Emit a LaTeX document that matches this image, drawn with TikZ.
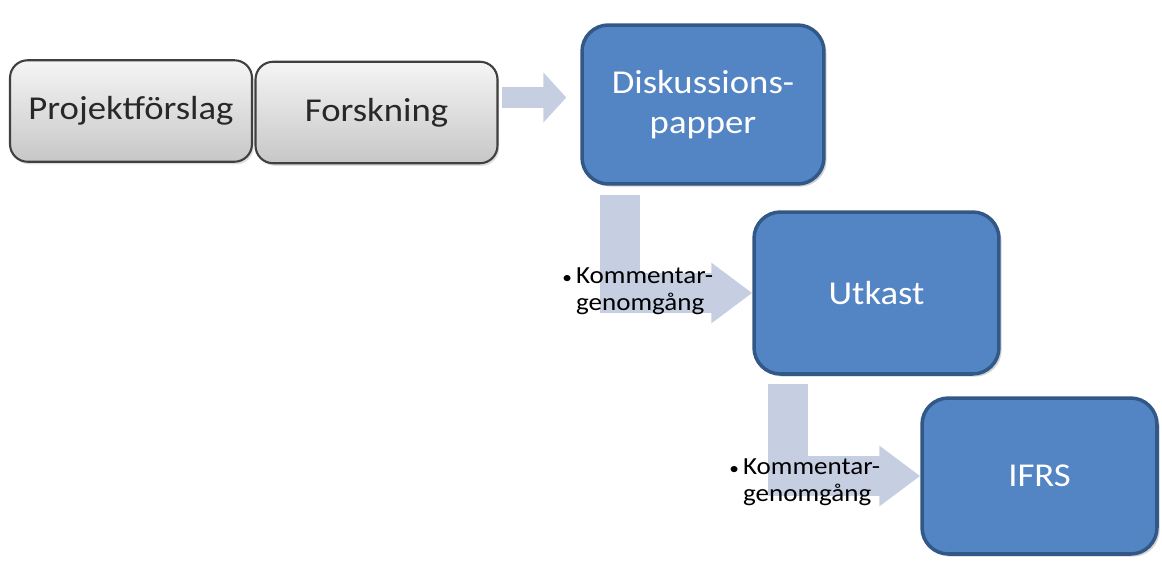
\documentclass[tikz,border=0pt]{standalone}
\usepackage{fontspec}
\setmainfont{Carlito}[FakeStretch=1.1]
\usetikzlibrary{arrows.meta,shadows}
\definecolor{boxblue}{RGB}{83,133,196}
\definecolor{boxedge}{RGB}{50,88,136}
\definecolor{flowgray}{RGB}{198,207,226}
\definecolor{inkgray}{RGB}{40,40,40}
\newcommand{\smallbullet}{{\fontsize{10}{10}\selectfont\textbullet}}

\begin{document}
\begin{tikzpicture}[x=0.02cm,y=-0.02cm,
  graybox/.style={draw=black!75,line width=1.2pt,rounded corners=10pt,
  top color=black!4,bottom color=black!22,text=inkgray,
  minimum width=4.84cm,minimum height=2.03cm,font=\fontsize{19}{22}\selectfont,
  drop shadow={opacity=0.25,shadow xshift=1pt,shadow yshift=-1.5pt}},
  bluebox/.style={draw=boxedge,line width=2pt,rounded corners=15pt,fill=boxblue,
  text=white,align=center,font=\fontsize{19}{23}\selectfont,
  drop shadow={opacity=0.35,shadow xshift=1.5pt,shadow yshift=-1.5pt}},
  flow/.style={draw=flowgray,line width=0.42cm,
  -{Triangle[length=0.46cm,width=0.98cm]}},
  elbow/.style={draw=flowgray,line width=0.8cm,line join=miter,
  -{Triangle[length=0.82cm,width=1.16cm]}},
  note/.style={align=left,inner sep=0pt,font=\fontsize{14}{15.5}\selectfont}]
  \useasboundingbox (0,0) rectangle (1162,562);
  % first row
  \node[graybox] (proj) at (131,111) {Projektförslag};
  \node[graybox] (forsk) at (376.5,112.5) {Forskning};
  % the three steps
  \node[bluebox,minimum width=4.84cm,minimum height=3.18cm] (disk) at (703,104.5)
    {Diskussions-\\papper};
  \node[bluebox,minimum width=4.9cm,minimum height=3.24cm] (utkast) at (876.5,293) {Utkast};
  \node[bluebox,minimum width=4.7cm,minimum height=3.12cm] (ifrs) at (1039.5,476) {IFRS};
  % arrows
  \draw[flow,shorten <=0.06cm,shorten >=0.28cm]
    ([yshift=0.14cm]forsk.east |- disk.west) -- ([yshift=0.14cm]disk.west);
  \draw[elbow,shorten <=0.18cm] ([xshift=-1.66cm]disk.south) |- (utkast.west);
  \draw[elbow,shorten <=0.16cm] ([xshift=-1.77cm]utkast.south) |- (ifrs.west);
  % comments
  \node[note,anchor=west] (note1) at (562,291)
    {\smallbullet\,Kommentar-\\\hphantom{\smallbullet\,}genomgång};
  \node[note,anchor=west] (note2) at (729,482)
    {\smallbullet\,Kommentar-\\\hphantom{\smallbullet\,}genomgång};
\end{tikzpicture}
\end{document}
